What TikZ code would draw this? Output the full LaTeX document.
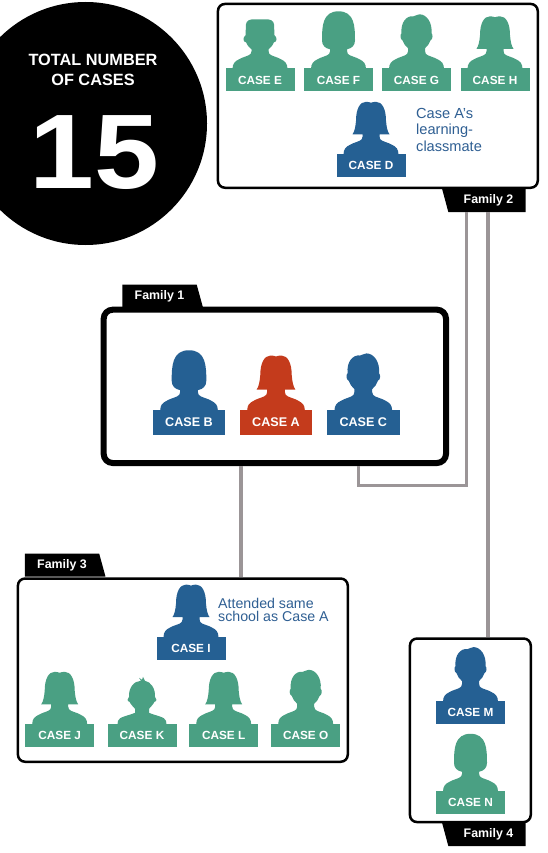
\documentclass[tikz,border=0pt]{standalone}
\usepackage{fontspec}
\setmainfont{Liberation Sans}
\newfontfamily\countfont[FakeStretch=1.1,BoldFeatures={FakeStretch=1.1}]{Liberation Sans}
\usetikzlibrary{shapes.geometric}
\definecolor{caseblue}{HTML}{256093}
\definecolor{casegreen}{HTML}{4AA083}
\definecolor{casered}{HTML}{C43B1C}
\definecolor{notetext}{HTML}{2F5F93}
\definecolor{linkgray}{HTML}{9B9597}
\newcommand{\caseshoulders}{\fill[pic actions] (-27.5,0.5) -- (-27,-3) .. controls (-26,-7) and (-22,-8.5) .. (-18,-10.5) .. controls (-13,-12.5) and (-8.5,-13) .. (-8.5,-17) -- (8.5,-17) .. controls (8.5,-13) and (13,-12.5) .. (18,-10.5) .. controls (22,-8.5) and (26,-7) .. (27,-3) -- (27.5,0.5) -- cycle;}
\tikzset{
  casebox/.style={fill=caseblue, text=white, inner sep=0pt, minimum width=69pt, minimum height=23pt, font=\fontsize{11.8}{14}\selectfont\bfseries},
  casebig/.style={casebox, minimum width=72.6pt, minimum height=24.4pt, font=\fontsize{12.6}{15}\selectfont\bfseries},
  famthin/.style={draw=black, fill=white, line width=2.5pt, rounded corners=7pt, inner sep=0pt},
  famthick/.style={draw=black, fill=white, line width=6pt, rounded corners=9pt, inner sep=0pt},
  tagup/.style={trapezium, trapezium stretches=true, trapezium left angle=90, trapezium right angle=70, fill=black, text=white, inner sep=0pt, minimum width=81pt, minimum height=23pt, font=\fontsize{12.4}{14}\selectfont\bfseries},
  tagdown/.style={tagup, shape border rotate=180, minimum width=84pt},
  notelabel/.style={text=notetext, inner sep=0pt, align=left, anchor=west},
  link/.style={draw=linkgray, line width=3.4pt},
  bobhair/.pic={
    \caseshoulders
    \fill[pic actions] (-8.5,-15) -- (-8.5,-19) .. controls (-13.5,-20) and (-16.5,-23) .. (-16.5,-28) .. controls (-16.5,-42) and (-16,-57) .. (0,-57) .. controls (16,-57) and (16.5,-42) .. (16.5,-28) .. controls (16.5,-23) and (13.5,-20) .. (8.5,-19) -- (8.5,-15) -- cycle;
  },
  flathair/.pic={
    \caseshoulders
    \fill[pic actions] (-8.5,-15) -- (-8.5,-19) .. controls (-11,-21) and (-13,-23) .. (-14,-26) .. controls (-17,-26) and (-17.5,-31) .. (-14.5,-33) -- (-14,-44) .. controls (-13.5,-48) and (-10,-49) .. (-6,-49) -- (6,-49) .. controls (10,-49) and (13.5,-48) .. (14,-44) -- (14.5,-33) .. controls (17.5,-31) and (17,-26) .. (14,-26) .. controls (13,-23) and (11,-21) .. (8.5,-19) -- (8.5,-15) -- cycle;
  },
  shorthair/.pic={
    \caseshoulders
    \fill[pic actions] (-8.5,-15) -- (-8.5,-20) .. controls (-11,-22) and (-13,-25) .. (-14,-28) .. controls (-16.5,-29) and (-16.5,-34) .. (-15,-35) .. controls (-16,-46) and (-10,-53) .. (-3,-52) .. controls (-1,-52) and (0,-54) .. (3,-54) .. controls (10,-54) and (16,-46) .. (15,-35) .. controls (16.5,-34) and (16.5,-29) .. (14,-28) .. controls (13,-25) and (11,-22) .. (8.5,-20) -- (8.5,-15) -- cycle;
  },
  pighair/.pic={
    \caseshoulders
    \fill[pic actions] (-8.5,-15) -- (-8.5,-19.5) -- (-18.5,-19.5) .. controls (-16.5,-22) and (-15.5,-27) .. (-15,-33) .. controls (-15,-45) and (-11,-52) .. (-5,-52) .. controls (-3,-52) and (-1,-51.5) .. (0,-51) .. controls (1,-51.5) and (3,-52) .. (5,-52) .. controls (11,-52) and (15,-45) .. (15,-33) .. controls (15.5,-27) and (16.5,-22) .. (18.5,-19.5) -- (8.5,-19.5) -- (8.5,-15) -- cycle;
  },
  kidhair/.pic={
    \fill[pic actions] (-24.5,0.5) -- (-24,-3) .. controls (-23,-7) and (-14,-8) .. (-7,-11) -- (7,-11) .. controls (14,-8) and (23,-7) .. (24,-3) -- (24.5,0.5) -- cycle;
    \fill[pic actions] (-7,-9) -- (-7,-15) .. controls (-9,-17) and (-11.5,-20) .. (-12.5,-22) .. controls (-15,-22) and (-15,-26) .. (-13,-27) .. controls (-13.5,-36) and (-8,-43) .. (-1,-43) -- (-3,-46) -- (0,-44) -- (1,-47) -- (3,-43) .. controls (9,-42) and (13.5,-35) .. (13,-27) .. controls (15,-26) and (15,-22) .. (12.5,-22) .. controls (11.5,-20) and (9,-17) .. (7,-15) -- (7,-9) -- cycle;
  }
}
\begin{document}
\begin{tikzpicture}[x=1pt,y=-1pt]
\fill[white] (0,0) rectangle (548,853);
\begin{scope}
\clip (0,0) rectangle (548,853);
\node[circle, fill=black, inner sep=0pt, minimum size=243pt] (badge) at (85.5,123.5) {};
\end{scope}
\node[text=white, align=center, inner sep=0pt, font=\fontsize{16.3}{20}\selectfont\bfseries] (badgetitle) at (93,70) {TOTAL NUMBER\\OF CASES};
\node[text=white, inner sep=0pt, font=\countfont\fontsize{106}{106}\selectfont\bfseries] (badgecount) at (94.5,152.5) {15};

\node[famthin, minimum width=319.8pt, minimum height=183.8pt] (fam2) at (377.85,95.85) {};
\node[famthick, minimum width=342.3pt, minimum height=153.3pt] (fam1) at (274.85,386.35) {};
\node[famthin, minimum width=329.8pt, minimum height=183.2pt] (fam3) at (182.85,670.15) {};
\node[famthin, minimum width=120.8pt, minimum height=183.5pt] (fam4) at (470.35,730.3) {};

\node[tagdown] (tag2) at (487,200.5) {\kern3pt Family 2};
\node[tagup] (tag1) at (159.5,296) {Family 1};
\node[tagup] (tag3) at (62,565) {Family 3};
\node[tagdown] (tag4) at (487,834.5) {\kern3pt Family 4};

\coordinate (out3) at ([xshift=140.3pt]fam1.south west);
\coordinate (out2) at ([xshift=257.6pt]fam1.south west);
\coordinate (bend) at (466.3,485.7);
\coordinate (in4) at ([xshift=17.7pt]fam4.north);
\draw[link] (out3) -- (out3 |- fam3.north);
\draw[link] (out2) |- (bend) -- (bend |- tag2.south);
\draw[link] (in4) -- (in4 |- tag2.south);

\node[casebox, fill=casegreen] (casee) at (260,80) {CASE E};
\node[casebox, fill=casegreen] (casef) at (338.5,80) {CASE F};
\node[casebox, fill=casegreen] (caseg) at (416.5,80) {CASE G};
\node[casebox, fill=casegreen] (caseh) at (495,80) {CASE H};
\node[casebox] (cased) at (371,165.5) {CASE D};
\node[notelabel, font=\fontsize{14.6}{16.5}\selectfont] (noted) at (416,129.5) {Case A’s\\learning-\\classmate};
\pic[fill=casegreen] at (casee.north) {flathair};
\pic[fill=casegreen] at (casef.north) {bobhair};
\pic[fill=casegreen] at (caseg.north) {shorthair};
\pic[fill=casegreen] at (caseh.north) {pighair};
\pic[fill=caseblue] at (cased.north) {pighair};

\node[casebig] (caseb) at (189,422.5) {CASE B};
\node[casebig, fill=casered] (casea) at (276,422.5) {CASE A};
\node[casebig] (casec) at (363.3,422.5) {CASE C};
\pic[fill=caseblue, scale=1.05] at (caseb.north) {bobhair};
\pic[fill=casered, scale=1.05] at (casea.north) {pighair};
\pic[fill=caseblue, scale=1.05] at (casec.north) {shorthair};

\node[casebox] (casei) at (191,648.3) {CASE I};
\node[notelabel, font=\fontsize{14.2}{12.3}\selectfont] (notei) at (218,610) {Attended same\\school as Case A};
\node[casebox, fill=casegreen] (casej) at (59.7,735.5) {CASE J};
\node[casebox, fill=casegreen] (casek) at (142,735.5) {CASE K};
\node[casebox, fill=casegreen] (casel) at (223.7,735.5) {CASE L};
\node[casebox, fill=casegreen] (caseo) at (305.7,735.5) {CASE O};
\pic[fill=caseblue] at (casei.north) {pighair};
\pic[fill=casegreen] at (casej.north) {pighair};
\pic[fill=casegreen] at (casek.north) {kidhair};
\pic[fill=casegreen] at (casel.north) {pighair};
\pic[fill=casegreen] at (caseo.north) {shorthair};

\node[casebox] (casem) at (470.5,712.8) {CASE M};
\node[casebox, fill=casegreen] (casen) at (470.5,802.5) {CASE N};
\pic[fill=caseblue] at (casem.north) {shorthair};
\pic[fill=casegreen] at (casen.north) {bobhair};
\end{tikzpicture}
\end{document}
